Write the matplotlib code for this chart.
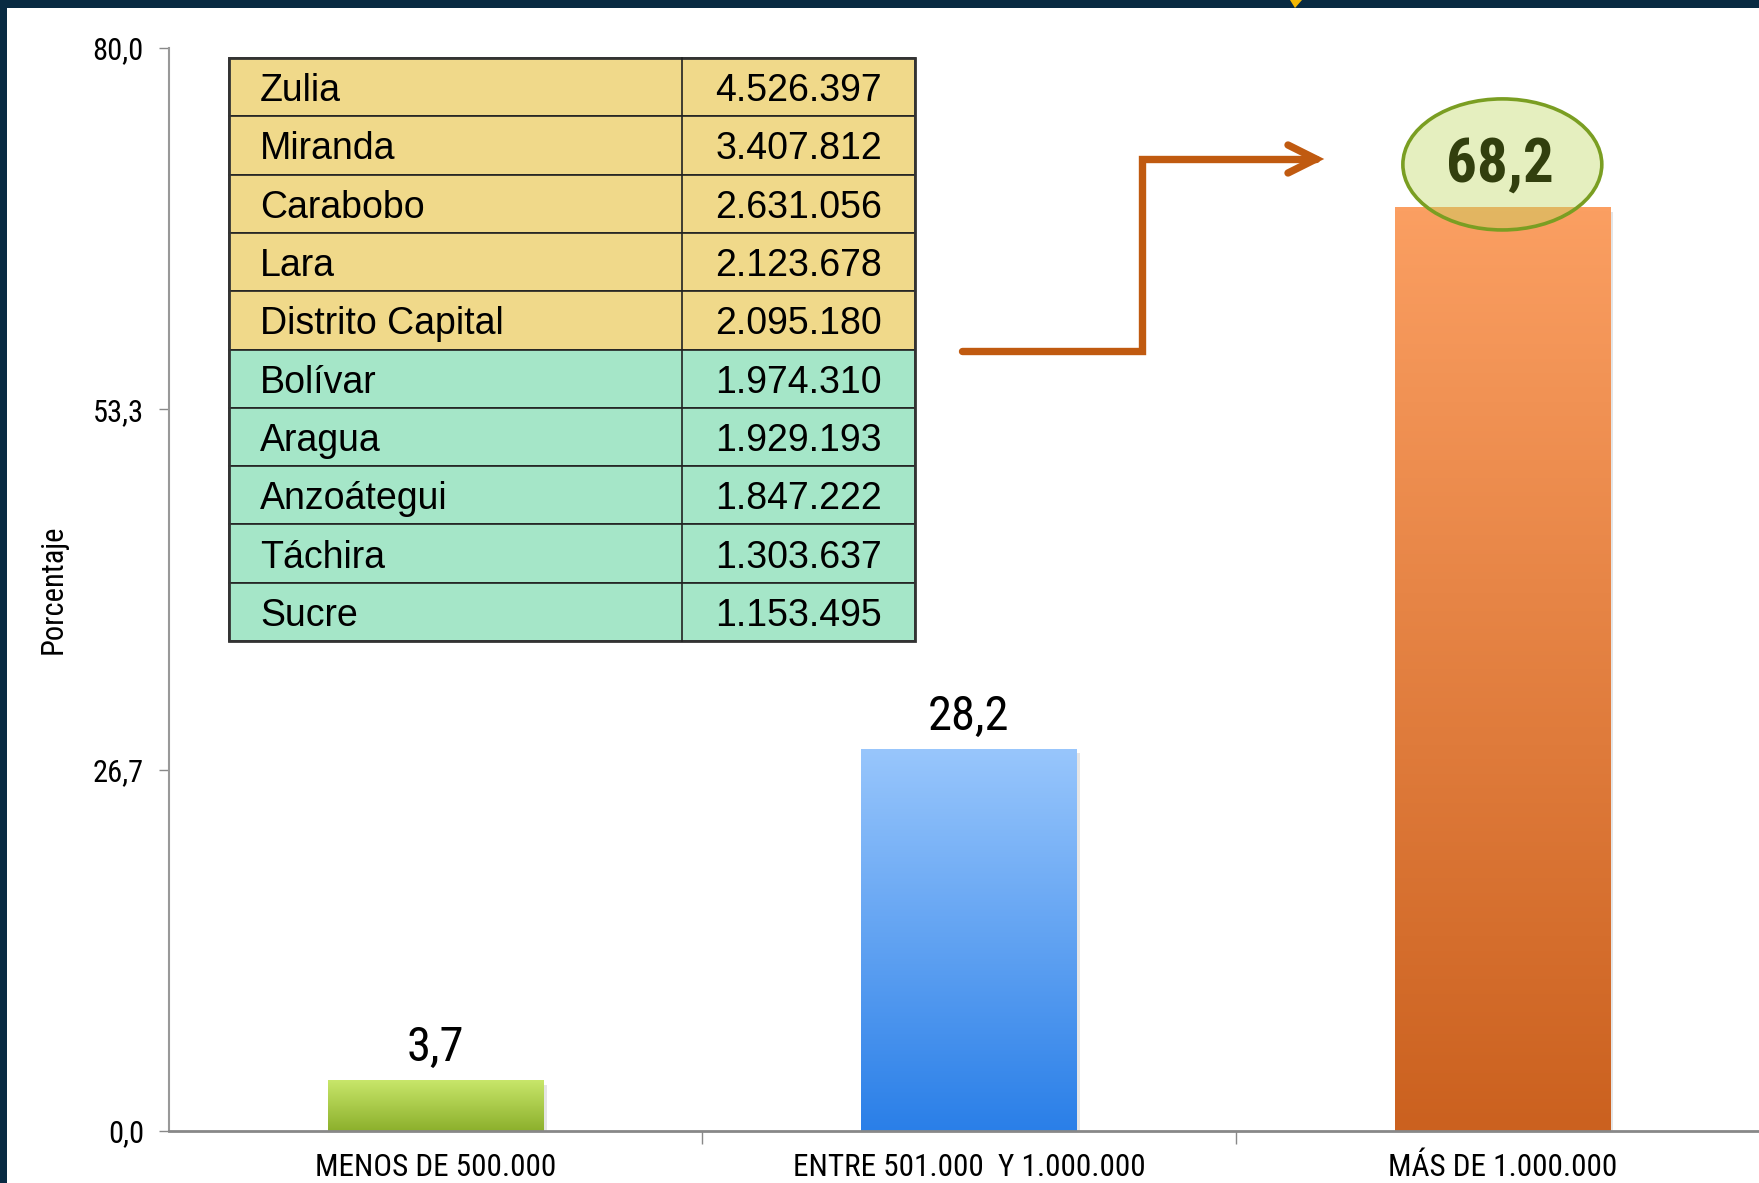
import numpy as np
import matplotlib.pyplot as plt
from matplotlib.colors import LinearSegmentedColormap
from matplotlib.patches import Rectangle, Ellipse, Polygon

# data
categories = ['MENOS DE 500.000', 'ENTRE 501.000  Y 1.000.000', 'MÁS DE 1.000.000']
porcentajes = [3.7, 28.2, 68.2]
etiquetas = ['3,7', '28,2', '68,2']
yticks = [0.0, 26.7, 53.3, 80.0]
ytick_labels = ['0,0', '26,7', '53,3', '80,0']

estados = ['Zulia', 'Miranda', 'Carabobo', 'Lara', 'Distrito Capital',
           'Bolívar', 'Aragua', 'Anzoátegui', 'Táchira', 'Sucre']
poblacion = ['4.526.397', '3.407.812', '2.631.056', '2.123.678', '2.095.180',
             '1.974.310', '1.929.193', '1.847.222', '1.303.637', '1.153.495']

# bar gradients (bottom -> top)
bar_colors = [('#8cb02c', '#c8e66a'),
              ('#2a7fe8', '#98c6fc'),
              ('#cb611f', '#fb9f62')]

narrow = ['Roboto Condensed', 'DejaVu Sans']

W, H = 1759, 1183
fig = plt.figure(figsize=(W / 100, H / 100), dpi=100)
fig.patch.set_facecolor('white')

ax = fig.add_axes([169 / W, 52 / H, 1600 / W, 1083 / H])
bw = 0.404
grad = np.linspace(0, 1, 256).reshape(-1, 1)
for i, v in enumerate(porcentajes):
    cmap = LinearSegmentedColormap.from_list('b%d' % i, bar_colors[i])
    ax.imshow(grad, extent=[i - bw / 2, i + bw / 2, 0, v], origin='lower',
              aspect='auto', cmap=cmap, zorder=2)
    # faint shadow
    ax.add_patch(Rectangle((i - bw / 2 + 0.006, -0.3), bw, v, color='#999999',
                           alpha=0.25, zorder=1, lw=0))
    if i < 2:
        ax.text(i, v + 1.45, etiquetas[i], ha='center', va='baseline',
                fontsize=35, family=narrow, color='black', zorder=4)

# highlighted value
ax.add_patch(Ellipse((2, 71.4), 0.373, 9.68, facecolor='#bed961', alpha=0.4,
                     edgecolor='none', zorder=5))
ax.add_patch(Ellipse((2, 71.4), 0.373, 9.68, facecolor='none',
                     edgecolor='#7a9e22', lw=2.6, zorder=6))
ax.text(1.995, 71.4, etiquetas[2], ha='center', va='center', fontsize=44,
        family=narrow, weight='bold', color='#323f0e', zorder=7)

ax.set_xlim(-0.5, 2.5)
ax.set_ylim(0, 80)
ax.set_yticks(yticks)
ax.set_yticklabels(ytick_labels, family=narrow, fontsize=22)
ax.set_xticks(range(3))
ax.set_xticklabels(categories, family=narrow, fontsize=22.5)
ax.set_xticks([0.5, 1.5], minor=True)
ax.tick_params(axis='x', which='major', length=0, pad=16)
ax.tick_params(axis='x', which='minor', length=9, color='#888888', width=1)
ax.tick_params(axis='y', length=7, color='#888888', width=1, pad=11)
for s in ['top', 'right']:
    ax.spines[s].set_visible(False)
ax.spines['left'].set_color('#999999')
ax.spines['left'].set_linewidth(1.5)
ax.spines['bottom'].set_color('#888888')
ax.spines['bottom'].set_linewidth(2)
ax.set_ylabel('Porcentaje', family=narrow, fontsize=22, labelpad=18)

# overlay in pixel coordinates for table, arrow and frame
ov = fig.add_axes([0, 0, 1, 1])
ov.set_xlim(0, W)
ov.set_ylim(H, 0)
ov.axis('off')

x0, xs, x1 = 229, 682, 915
y0, rh = 58, 58.3
for r, (name, val) in enumerate(zip(estados, poblacion)):
    fc = '#f0d98a' if r < 5 else '#a5e6c8'
    y = y0 + r * rh
    ov.add_patch(Rectangle((x0, y), x1 - x0, rh, facecolor=fc,
                           edgecolor='#222222', lw=1.2))
    ov.text(x0 + 31, y + rh / 2 + 4, name, ha='left', va='center',
            fontsize=27, family='Liberation Sans', color='black')
    ov.text(x1 - 33, y + rh / 2 + 4, val, ha='right', va='center',
            fontsize=27, family='Liberation Sans', color='black')
ov.plot([xs, xs], [y0, y0 + 10 * rh], color='#222222', lw=1.2)
ov.add_patch(Rectangle((x0, y0), x1 - x0, 10 * rh, facecolor='none',
                       edgecolor='#333333', lw=2))

# step arrow
arrow_c = '#c05a10'
ov.plot([962, 1142, 1142, 1316], [351, 351, 159, 159], color=arrow_c, lw=5.3,
        solid_capstyle='round', solid_joinstyle='miter')
ov.plot([1288, 1316, 1288], [145, 159, 173], color=arrow_c, lw=5.3,
        solid_capstyle='round', solid_joinstyle='miter')

# frame
ov.add_patch(Rectangle((0, 0), W, 8, color='#082a42', lw=0))
ov.add_patch(Rectangle((0, 0), 7, H, color='#082a42', lw=0))
ov.add_patch(Polygon([[1290, 0], [1302, 0], [1295, 8]], color='#f2b705', lw=0))

fig.savefig('out.png', dpi=100)
